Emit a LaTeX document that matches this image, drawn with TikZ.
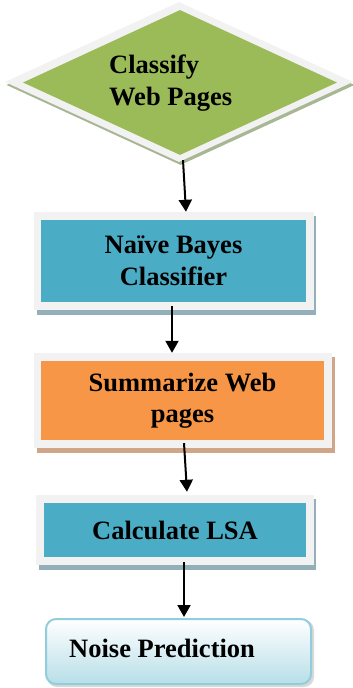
\documentclass[tikz,border=0pt]{standalone}
\usepackage{fontspec}
\setmainfont{Liberation Serif}
\usetikzlibrary{shapes.geometric,arrows.meta}
\definecolor{frame}{HTML}{F2F2F2}
\definecolor{cgreen}{HTML}{9BBB59}
\definecolor{cteal}{HTML}{4BACC6}
\definecolor{corange}{HTML}{F79646}
\definecolor{sgreen}{HTML}{A7B794}
\definecolor{steal}{HTML}{93AFBA}
\definecolor{sorange}{HTML}{CFA688}
\definecolor{nborder}{HTML}{92CDDC}
\definecolor{nfill}{HTML}{B7DEE8}
\begin{document}
\begin{tikzpicture}[x=1pt,y=-1pt,
  lbl/.style={font=\bfseries\fontsize{26.5}{31.5}\selectfont, align=center, inner sep=0pt},
  outerbox/.style={rectangle, fill=frame, draw=none, inner sep=0pt},
  innerbox/.style={rectangle, draw=none, inner sep=0pt},
  shadowbox/.style={rectangle, draw=none, inner sep=0pt},
  arr/.style={line width=2pt, -{Triangle[length=12pt,width=13pt]}}]
\useasboundingbox (0,0) rectangle (353,688);
% diamond
\node[diamond, fill=sgreen, inner sep=0pt, minimum width=348pt, minimum height=160pt] (ds) at (180.5,85) {};
\node[diamond, fill=frame, inner sep=0pt, minimum width=348pt, minimum height=160pt] (dout) at (179,82) {};
\node[diamond, fill=cgreen, inner sep=0pt, minimum width=314pt, minimum height=145pt] (din) at (180,82.5) {};
\node[lbl, align=left, anchor=west] (dtxt) at (109,83) {Classify\\Web Pages};
% box 1
\node[shadowbox, fill=steal, minimum width=279pt, minimum height=99pt] (s1) at (176.5,265.5) {};
\node[outerbox, minimum width=280pt, minimum height=98pt] (o1) at (174,261) {};
\node[innerbox, fill=cteal, minimum width=265pt, minimum height=82pt] (b1) at (173.5,261) {};
\node[lbl] (t1) at (173.5,261) {Naïve Bayes\\Classifier};
% box 2
\node[shadowbox, fill=sorange, minimum width=298pt, minimum height=96pt] (s2) at (186,405) {};
\node[outerbox, minimum width=298pt, minimum height=95pt] (o2) at (183,400.5) {};
\node[innerbox, fill=corange, minimum width=283pt, minimum height=79pt] (b2) at (182.5,400.5) {};
\node[lbl] (t2) at (182.5,400.5) {Summarize Web\\pages};
% box 3
\node[shadowbox, fill=steal, minimum width=277pt, minimum height=71pt] (s3) at (177.5,534.5) {};
\node[outerbox, minimum width=278pt, minimum height=70pt] (o3) at (175,530) {};
\node[innerbox, fill=cteal, minimum width=262pt, minimum height=54pt] (b3) at (175,530) {};
\node[lbl] (t3) at (175,530) {Calculate LSA};
% box 4
\node[rectangle, rounded corners=10pt, fill=black!15, minimum width=267pt, minimum height=67pt] (s4) at (180.5,653.5) {};
\node[rectangle, rounded corners=10pt, draw=nborder, line width=2pt, top color=white, bottom color=nfill, minimum width=265pt, minimum height=65pt] (b4) at (178.5,651.5) {};
\node[lbl, anchor=west] (t4) at (69,648) {Noise Prediction};
% arrows
\draw[arr] ([xshift=4pt,yshift=2pt]dout.south) -- ([xshift=12pt]o1.north);
\draw[arr] ([xshift=-2pt,yshift=4pt]o1.south) -- ([xshift=-11pt]o2.north);
\draw[arr] ([xshift=1pt,yshift=5pt]o2.south) -- ([xshift=12pt,yshift=3pt]o3.north);
\draw[arr] ([xshift=9pt,yshift=3pt]o3.south) -- ([xshift=5.5pt,yshift=1pt]b4.north);
\end{tikzpicture}
\end{document}
